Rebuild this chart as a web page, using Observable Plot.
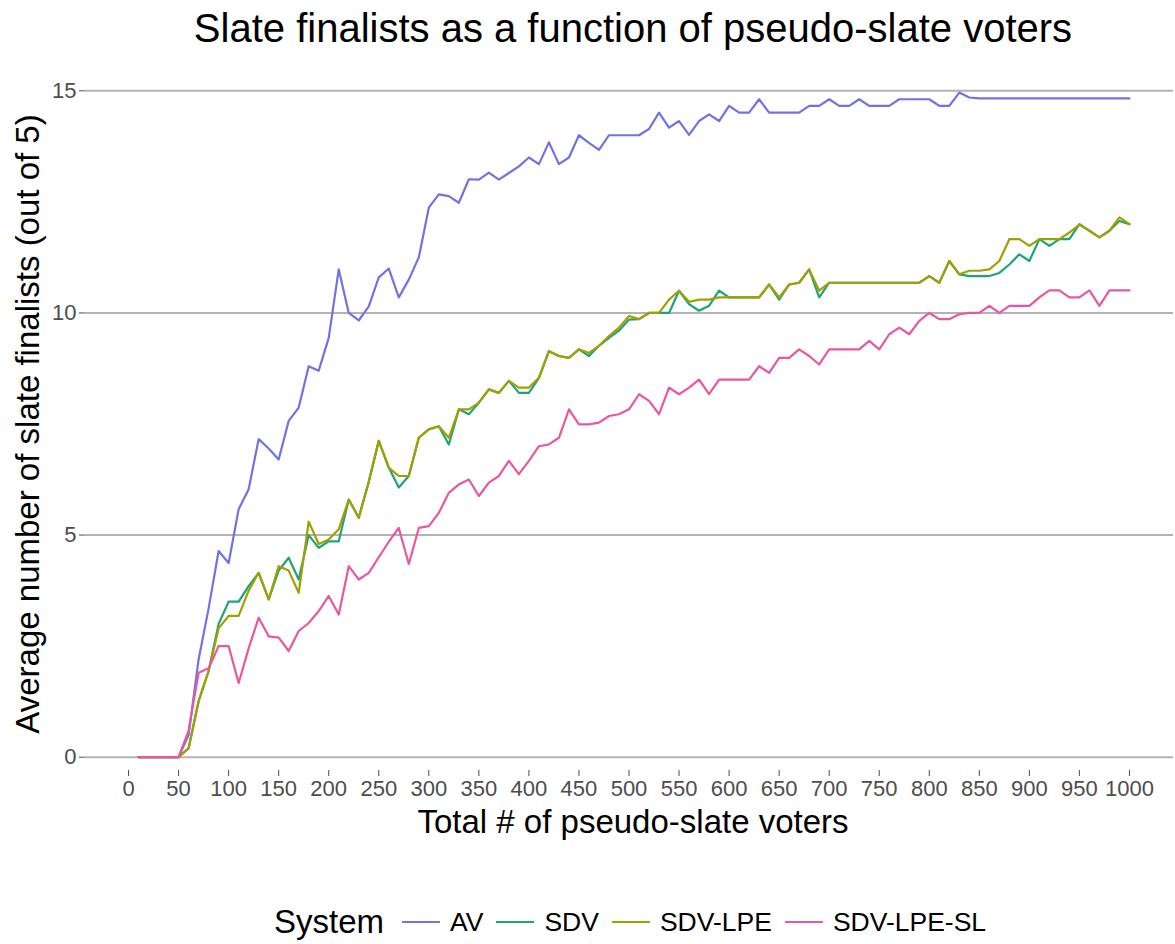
<!DOCTYPE html>
<html>
<head>
<meta charset="utf-8">
<script src="https://cdn.jsdelivr.net/npm/d3@7"></script>
<script src="https://cdn.jsdelivr.net/npm/@observablehq/plot@0.6"></script>
<style>
  html, body { margin: 0; padding: 0; background: #fff; }
  body { width: 1175px; height: 944px; position: relative; overflow: hidden;
         font-family: "Liberation Sans", Arial, Helvetica, sans-serif; }
  #title { position: absolute; left: 133px; width: 1000px; top: 4px; text-align: center;
           font-size: 40px; line-height: 48px; color: #000; white-space: nowrap; }
  #chart { position: absolute; left: 0; top: 60px; }
  #legend { position: absolute; left: 274px; top: 902px; height: 40px; display: flex;
            align-items: center; white-space: nowrap; color: #000; }
  #legend .ttl { font-size: 33px; margin-right: 18px; }
  #legend .sw { display: inline-block; width: 38px; height: 0; border-top: 2.4px solid; margin-right: 10px; }
  #legend .lab { font-size: 26.5px; margin-right: 13px; }
</style>
</head>
<body>
<div id="title">Slate finalists as a function of pseudo-slate voters</div>
<div id="chart"></div>
<div id="legend"></div>
<script>
// ---- data ----
const voters = [10,20,30,40,50,60,70,80,90,100,110,120,130,140,150,160,170,180,190,200,
  210,220,230,240,250,260,270,280,290,300,310,320,330,340,350,360,370,380,390,400,
  410,420,430,440,450,460,470,480,490,500,510,520,530,540,550,560,570,580,590,600,
  610,620,630,640,650,660,670,680,690,700,710,720,730,740,750,760,770,780,790,800,
  810,820,830,840,850,860,870,880,890,900,910,920,930,940,950,960,970,980,990,1000];

const systems = ["AV", "SDV", "SDV-LPE", "SDV-LPE-SL"];
const systemColors = ["#7272e2", "#1ea47a", "#a1a000", "#e8589f"];

const avValues = [0,0,0,0,0,0.5,2.2,3.35,4.64,4.37,
  5.58,6.03,7.16,6.95,6.7,7.57,7.87,8.8,8.7,9.44,
  10.98,10.0,9.83,10.15,10.8,11.0,10.35,10.75,11.25,12.37,
  12.67,12.63,12.48,13.01,13.0,13.16,13.0,13.15,13.3,13.5,
  13.35,13.84,13.35,13.5,14.0,13.83,13.67,14.0,14.0,14.0,
  14.0,14.14,14.51,14.17,14.32,14.01,14.32,14.47,14.32,14.66,
  14.51,14.51,14.81,14.51,14.51,14.51,14.51,14.66,14.66,14.81,
  14.66,14.66,14.81,14.66,14.66,14.66,14.81,14.81,14.81,14.81,
  14.66,14.66,14.96,14.85,14.83,14.83,14.83,14.83,14.83,14.83,
  14.83,14.83,14.83,14.83,14.83,14.83,14.83,14.83,14.83,14.83];

const sdvValues = [0,0,0,0,0,0.2,1.26,1.94,3.0,3.5,
  3.5,3.85,4.15,3.55,4.2,4.49,4.0,5.0,4.71,4.86,
  4.86,5.8,5.39,6.2,7.12,6.52,6.07,6.33,7.19,7.38,
  7.45,7.04,7.83,7.72,7.98,8.28,8.2,8.47,8.2,8.2,
  8.54,9.14,9.03,8.99,9.18,9.03,9.26,9.44,9.6,9.85,
  9.86,10.0,10.0,10.0,10.5,10.2,10.05,10.16,10.5,10.35,
  10.35,10.35,10.35,10.64,10.3,10.64,10.68,10.98,10.35,10.68,
  10.68,10.68,10.68,10.68,10.68,10.68,10.68,10.68,10.68,10.83,
  10.68,11.17,10.87,10.83,10.83,10.83,10.9,11.09,11.32,11.17,
  11.66,11.51,11.66,11.66,12.0,11.85,11.7,11.85,12.07,12.0];

const sdvLpeValues = [0,0,0,0,0,0.2,1.26,1.94,2.9,3.18,
  3.18,3.75,4.15,3.55,4.3,4.2,3.7,5.3,4.8,4.9,
  5.13,5.8,5.39,6.2,7.12,6.52,6.33,6.33,7.19,7.38,
  7.45,7.19,7.83,7.83,7.98,8.28,8.2,8.47,8.32,8.32,
  8.54,9.14,9.03,8.99,9.18,9.1,9.26,9.48,9.67,9.93,
  9.86,10.0,10.0,10.3,10.5,10.25,10.3,10.3,10.35,10.35,
  10.35,10.35,10.35,10.64,10.35,10.64,10.68,10.98,10.5,10.68,
  10.68,10.68,10.68,10.68,10.68,10.68,10.68,10.68,10.68,10.83,
  10.68,11.17,10.87,10.95,10.95,10.98,11.17,11.66,11.66,11.51,
  11.66,11.66,11.66,11.81,11.99,11.85,11.7,11.85,12.15,12.0];

const sdvLpeSlValues = [0,0,0,0,0,0.6,1.9,2.0,2.5,2.5,
  1.67,2.45,3.14,2.72,2.69,2.39,2.84,3.02,3.29,3.63,
  3.21,4.3,4.0,4.15,4.5,4.85,5.16,4.35,5.16,5.2,
  5.5,5.95,6.14,6.25,5.88,6.18,6.33,6.67,6.37,6.67,
  7.0,7.04,7.19,7.83,7.49,7.49,7.53,7.68,7.72,7.83,
  8.17,8.02,7.72,8.32,8.17,8.32,8.5,8.17,8.5,8.5,
  8.5,8.5,8.8,8.65,8.99,8.99,9.18,9.03,8.84,9.18,
  9.18,9.18,9.18,9.37,9.18,9.52,9.67,9.52,9.82,10.0,
  9.86,9.86,9.97,10.0,10.0,10.16,10.0,10.16,10.16,10.16,
  10.35,10.51,10.51,10.35,10.35,10.51,10.16,10.51,10.51,10.51];

const xTicks = [0,50,100,150,200,250,300,350,400,450,500,550,600,650,700,750,800,850,900,950,1000];
const yTicks = [0,5,10,15];

const xTitle = "Total # of pseudo-slate voters";
const yTitle = "Average number of slate finalists (out of 5)";

// ---- build long table ----
const seriesValues = [avValues, sdvValues, sdvLpeValues, sdvLpeSlValues];
const rows = [];
systems.forEach((s, i) => {
  voters.forEach((v, j) => rows.push({system: s, voters: v, finalists: seriesValues[i][j]}));
});

const fontFam = '"Liberation Sans", Arial, Helvetica, sans-serif';

const chart = Plot.plot({
  width: 1175,
  height: 800,
  marginLeft: 84,
  marginRight: 2,
  marginTop: 17,
  marginBottom: 90,
  style: {fontFamily: fontFam, background: "#fff", overflow: "visible"},
  x: {domain: [-44, 1044], label: null},
  y: {domain: [-0.3, 15.3], label: null},
  color: {domain: systems, range: systemColors},
  marks: [
    Plot.ruleY(yTicks, {stroke: "#b3b3b3", strokeWidth: 2}),
    Plot.axisY({ticks: yTicks, tickSize: 5, tickPadding: 3, fontSize: 22, color: "#4d4d4d", stroke: "#4d4d4d", label: null}),
    Plot.axisX({ticks: xTicks, tickSize: 6, tickPadding: 4, fontSize: 22, color: "#4d4d4d", stroke: "#4d4d4d", label: null, tickFormat: d => String(d)}),
    Plot.line(rows, {x: "voters", y: "finalists", z: "system", stroke: "system", strokeWidth: 2.2}),
    Plot.text([xTitle], {frameAnchor: "bottom", dx: 4, dy: 62, fontSize: 33, fill: "#000"}),
    Plot.text([yTitle], {frameAnchor: "left", textAnchor: "middle", dx: -56, rotate: -90, fontSize: 33, fill: "#000"})
  ]
});
document.getElementById("chart").appendChild(chart);

// ---- legend ----
const legend = document.getElementById("legend");
const t = document.createElement("span");
t.className = "ttl"; t.textContent = "System";
legend.appendChild(t);
systems.forEach((s, i) => {
  const sw = document.createElement("span");
  sw.className = "sw"; sw.style.borderTopColor = systemColors[i];
  legend.appendChild(sw);
  const lab = document.createElement("span");
  lab.className = "lab"; lab.textContent = s;
  legend.appendChild(lab);
});
</script>
</body>
</html>
